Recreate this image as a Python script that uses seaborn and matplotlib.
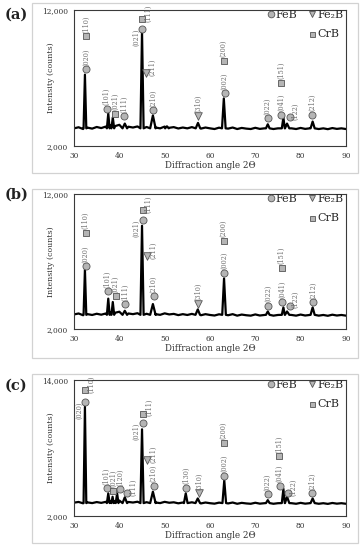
import numpy as np
import pandas as pd
import matplotlib
matplotlib.use("Agg")
import matplotlib.pyplot as plt
import seaborn as sns
from matplotlib.lines import Line2D
from matplotlib.patches import Rectangle
from matplotlib.ticker import FuncFormatter

# ---- data ----
BASE_X = list(range(30, 91))  # background sampled every degree (2-theta)

# panel (a)
base_a = [3300, 3380, 3250, 3350, 3280, 3400, 3320, 3430, 3520, 3460,
          3560, 3480, 3420, 3360, 3440, 3460, 3400, 3470, 3360, 3300,
          3430, 3340, 3390, 3290, 3360, 3300, 3390, 3320, 3280, 3360,
          3300, 3250, 3350, 3300, 3280, 3360, 3250, 3330, 3280, 3250,
          3340, 3260, 3300, 3320, 3250, 3300, 3400, 3450, 3300, 3250,
          3330, 3260, 3300, 3350, 3250, 3300, 3240, 3320, 3260, 3300, 3250]
level_a = 3300
peak_pos_a = [32.4, 37.55, 38.55, 41.2, 45.0, 47.4, 50.5, 57.35, 63.05, 72.75, 76.2, 77.0, 82.65]
peak_int_a = [7250, 4400, 4100, 3650, 10400, 4250, 3450, 3700, 5500, 3600, 4100, 3650, 3800]
peak_hw_a = [0.3, 0.3, 0.3, 0.5, 0.35, 0.6, 0.4, 0.5, 0.4, 0.4, 0.35, 0.5, 0.45]

phase_a = ["FeB", "CrB", "FeB", "CrB", "FeB", "FeB", "CrB", "Fe2B", "FeB", "Fe2B",
           "FeB", "CrB", "FeB", "FeB", "CrB", "FeB", "FeB"]
mx_a = [32.66, 32.66, 37.2, 39.0, 41.1, 45.08, 45.08, 45.96, 47.5, 57.4,
        63.26, 63.05, 72.7, 75.7, 75.7, 77.6, 82.6]
my_a = [7630, 10080, 4750, 4380, 4190, 10620, 11340, 7380, 4630, 4210,
        5880, 8270, 4040, 4310, 6640, 4140, 4290]
hkl_a = ["(020)", "(110)", "(101)", "(021)", "(111)", "(021)", "(111)", "(211)", "(210)", "(310)",
         "(002)", "(200)", "(022)", "(041)", "(151)", "(122)", "(212)"]
place_a = ["up", "up", "up", "up", "up", "left", "right", "right", "up", "up",
           "up", "up", "up", "up", "up", "right", "up"]

# panel (b)
base_b = [3080, 3150, 3020, 3100, 3040, 3130, 3060, 3150, 3250, 3200,
          3280, 3220, 3150, 3100, 3170, 3200, 3130, 3200, 3100, 3050,
          3160, 3080, 3120, 3030, 3100, 3040, 3120, 3060, 3020, 3100,
          3040, 3000, 3090, 3040, 3020, 3100, 2990, 3070, 3020, 2990,
          3080, 3000, 3040, 3060, 2990, 3040, 3150, 3200, 3040, 2990,
          3070, 3000, 3040, 3090, 2990, 3040, 2980, 3060, 3000, 3040, 2990]
level_b = 3050
peak_pos_b = [32.4, 37.55, 38.55, 41.2, 45.0, 47.4, 57.3, 63.1, 72.75, 76.2, 77.0, 82.65]
peak_int_b = [6400, 4250, 4000, 3350, 9650, 3850, 3450, 5750, 3300, 3600, 3300, 3600]
peak_hw_b = [0.3, 0.3, 0.3, 0.5, 0.35, 0.6, 0.5, 0.4, 0.4, 0.35, 0.5, 0.45]

phase_b = ["FeB", "CrB", "FeB", "CrB", "FeB", "FeB", "CrB", "Fe2B", "FeB", "Fe2B",
           "FeB", "CrB", "FeB", "FeB", "CrB", "FeB", "FeB"]
mx_b = [32.58, 32.58, 37.4, 39.2, 41.3, 45.17, 45.2, 46.1, 47.6, 57.4,
        63.06, 63.0, 72.9, 75.9, 75.8, 77.6, 82.7]
my_b = [6640, 9130, 4780, 4430, 3820, 10060, 10820, 7380, 4410, 3870,
        6150, 8540, 3720, 4015, 6520, 3740, 3970]
hkl_b = hkl_a
place_b = place_a

# panel (c)
base_c = [3180, 3240, 3120, 3200, 3140, 3230, 3160, 3250, 3330, 3300,
          3360, 3300, 3240, 3190, 3260, 3280, 3220, 3290, 3190, 3140,
          3250, 3170, 3210, 3120, 3190, 3130, 3210, 3150, 3110, 3190,
          3130, 3090, 3180, 3130, 3110, 3190, 3080, 3160, 3110, 3080,
          3170, 3090, 3130, 3150, 3080, 3130, 3240, 3290, 3130, 3080,
          3160, 3090, 3130, 3180, 3080, 3130, 3070, 3150, 3090, 3130, 3080]
level_c = 3140
peak_pos_c = [32.4, 37.55, 38.5, 39.5, 41.2, 45.0, 47.4, 54.65, 57.3, 63.15, 72.75, 76.2, 77.0, 82.65]
peak_int_c = [11650, 4000, 3700, 4000, 3650, 9650, 4150, 4000, 3550, 5150, 3400, 4400, 3700, 3550]
peak_hw_c = [0.3, 0.3, 0.25, 0.3, 0.5, 0.35, 0.6, 0.4, 0.5, 0.4, 0.4, 0.35, 0.5, 0.45]

phase_c = ["FeB", "CrB", "FeB", "CrB", "FeB", "FeB", "FeB", "CrB", "Fe2B", "FeB",
           "FeB", "Fe2B", "FeB", "CrB", "FeB", "FeB", "CrB", "FeB", "FeB"]
mx_c = [32.5, 32.5, 37.2, 38.7, 40.15, 41.7, 45.2, 45.3, 46.2, 47.6,
        54.8, 57.6, 63.1, 63.0, 72.7, 75.4, 75.3, 77.2, 82.5]
my_c = [12040, 13090, 4430, 4250, 4340, 4050, 10170, 11040, 6950, 4660,
        4490, 4020, 5570, 8440, 3900, 4640, 7270, 4050, 4020]
hkl_c = ["(020)", "(110)", "(101)", "(021)", "(120)", "(111)", "(021)", "(111)", "(211)", "(210)",
         "(130)", "(310)", "(002)", "(200)", "(022)", "(041)", "(151)", "(122)", "(212)"]
place_c = ["left", "right", "up", "up", "up", "right", "left", "right", "right", "up",
           "up", "up", "up", "up", "up", "up", "up", "right", "up"]

y_max = [12000, 12000, 14000]
panel_names = ["(a)", "(b)", "(c)"]

# ---- styling ----
sns.set_style("white")
plt.rcParams["font.family"] = ["DejaVu Serif"]

FILL = "#b5b5b5"
EDGE = "#555555"
LABEL_GREY = "#6e6e6e"
MARKERS = {"FeB": ("o", 26), "Fe2B": ("v", 30), "CrB": ("s", 13)}
OFFSETS = {"up": ((0, 2.6), "center", "bottom"),
           "left": ((-4.6, 0.5), "center", "top"),
           "right": ((4.2, -2.0), "center", "bottom")}


def build_trace(base_y, level, pos, height, hw):
    bx = np.array(BASE_X, dtype=float)
    by = np.array(base_y, dtype=float)
    keep = np.ones(len(bx), dtype=bool)
    for p, w in zip(pos, hw):
        keep &= np.abs(bx - p) > w
    xs = list(bx[keep])
    ys = list(by[keep])
    for p, h, w in zip(pos, height, hw):
        xs += [p - w, p, p + w]
        ys += [level, h, level]
    return pd.DataFrame({"angle": xs, "counts": ys}).sort_values("angle")


fig = plt.figure(figsize=(3.63, 5.5), dpi=100)

# axes rectangles (figure fractions) and the light grey panel frames
ax_rects = [[0.204, 0.7345, 0.749, 0.2473],
            [0.204, 0.4018, 0.749, 0.2455],
            [0.204, 0.0618, 0.749, 0.2473]]
frame_rects = [[0.088, 0.6855, 0.898, 0.309],
               [0.088, 0.349, 0.898, 0.307],
               [0.088, 0.0127, 0.898, 0.307]]
label_y = [1 - 15 / 550, 1 - 195 / 550, 1 - 386 / 550]

traces = [build_trace(base_a, level_a, peak_pos_a, peak_int_a, peak_hw_a),
          build_trace(base_b, level_b, peak_pos_b, peak_int_b, peak_hw_b),
          build_trace(base_c, level_c, peak_pos_c, peak_int_c, peak_hw_c)]
marks = [pd.DataFrame({"phase": phase_a, "angle": mx_a, "counts": my_a, "hkl": hkl_a, "place": place_a}),
         pd.DataFrame({"phase": phase_b, "angle": mx_b, "counts": my_b, "hkl": hkl_b, "place": place_b}),
         pd.DataFrame({"phase": phase_c, "angle": mx_c, "counts": my_c, "hkl": hkl_c, "place": place_c})]

for i in range(3):
    fig.add_artist(Rectangle(frame_rects[i][:2], frame_rects[i][2], frame_rects[i][3],
                             transform=fig.transFigure, fill=False,
                             edgecolor="#d2d2d2", lw=0.9))
    ax = fig.add_axes(ax_rects[i])

    sns.lineplot(data=traces[i], x="angle", y="counts", ax=ax, color="black",
                 lw=1.6, estimator=None, sort=False)

    for phase, (m, s) in MARKERS.items():
        sub = marks[i][marks[i]["phase"] == phase]
        sns.scatterplot(data=sub, x="angle", y="counts", ax=ax, marker=m, s=s,
                        color=FILL, edgecolor=EDGE, linewidth=0.6, zorder=3, legend=False)

    for _, r in marks[i].iterrows():
        off, ha, va = OFFSETS[r["place"]]
        ax.annotate(r["hkl"], xy=(r["angle"], r["counts"]), xytext=off,
                    textcoords="offset points", rotation=90, ha=ha, va=va,
                    fontsize=4.7, color=LABEL_GREY, annotation_clip=False)

    ax.set_xlim(30, 90)
    ax.set_ylim(2000, y_max[i])
    ax.set_xticks(range(30, 91, 10))
    ax.set_yticks([2000, y_max[i]])
    ax.yaxis.set_major_formatter(FuncFormatter(lambda v, p: f"{int(v):,}"))
    ax.tick_params(axis="both", labelsize=5.3, colors="#333333", length=2.5,
                   width=0.6, direction="out", pad=1.5)
    ax.tick_params(axis="y", pad=2)
    for sp in ax.spines.values():
        sp.set_color("#3a3a3a")
        sp.set_linewidth(0.8)
    ax.set_xlabel("Diffraction angle 2\u0398", fontsize=6.3, color="#333333", labelpad=1)
    ax.set_ylabel("Intensity (counts)", fontsize=5.6, color="#333333")
    ax.yaxis.set_label_coords(-0.07, 0.5)

    handles = [Line2D([], [], ls="none", marker="o", ms=4.8, mfc=FILL, mec=EDGE, mew=0.6),
               Line2D([], [], ls="none"),
               Line2D([], [], ls="none", marker="v", ms=4.8, mfc=FILL, mec=EDGE, mew=0.6),
               Line2D([], [], ls="none", marker="s", ms=3.6, mfc=FILL, mec=EDGE, mew=0.6)]
    ax.legend(handles, ["FeB", "", "Fe\u2082B", "CrB"], ncol=2, loc="upper right",
              bbox_to_anchor=(0.99, 1.0), frameon=False, fontsize=8,
              handlelength=0.6, handletextpad=0.15, columnspacing=1.0,
              labelspacing=0.85, borderpad=0, borderaxespad=0)

    fig.text(0.012, label_y[i], panel_names[i], fontsize=10.5, fontweight="bold",
             va="center", ha="left", color="#222222")

fig.savefig("out.png", dpi=100)
